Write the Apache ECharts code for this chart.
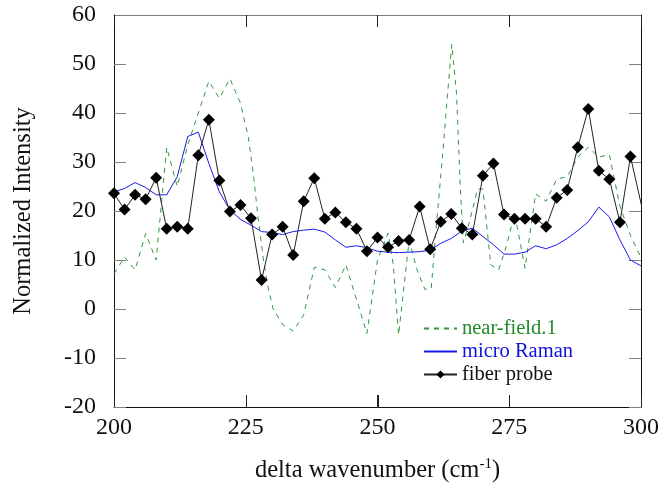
<!DOCTYPE html>
<html>
<head>
<meta charset="utf-8">
<script src="https://cdn.jsdelivr.net/npm/echarts@6/dist/echarts.min.js"></script>
<style>
  html, body { margin: 0; padding: 0; background: #fff; }
  #main { width: 667px; height: 489px; }
</style>
</head>
<body>
<div id="main"></div>
<script>
// ---- data
var fiberX = [200, 202, 204, 206, 208, 210, 212, 214, 216, 218, 220, 222, 224, 226, 228, 230, 232, 234, 236, 238,
  240, 242, 244, 246, 248, 250, 252, 254, 256, 258, 260, 262, 264, 266, 268, 270, 272, 274, 276, 278,
  280, 282, 284, 286, 288, 290, 292, 294, 296, 298, 300.4];
var fiberY = [23.6, 20.3, 23.3, 22.4, 26.8, 16.4, 16.8, 16.4, 31.4, 38.6, 26.2, 19.9, 21.2, 18.5, 5.9, 15.2, 16.8, 11.0, 22.0, 26.7,
  18.4, 19.7, 17.7, 16.4, 11.8, 14.6, 12.6, 13.9, 14.1, 20.9, 12.2, 17.8, 19.4, 16.5, 15.2, 27.2, 29.7, 19.3, 18.4, 18.4,
  18.4, 16.8, 22.7, 24.3, 33.0, 40.8, 28.2, 26.5, 17.7, 31.1, 19.7];

var ramanX = [200, 202, 204, 206, 208, 210, 212, 214, 216, 218, 220, 222, 224, 226, 228, 230, 232, 234, 236, 238,
  240, 242, 244, 246, 248, 250, 252, 254, 256, 258, 260, 262, 264, 266, 268, 270, 272, 274, 276, 278,
  280, 282, 284, 286, 288, 290, 292, 294, 296, 298, 300];
var ramanY = [23.9, 24.6, 25.8, 24.8, 23.3, 23.3, 27.0, 35.2, 36.1, 29.7, 23.9, 20.2, 18.3, 17.1, 15.8, 15.6, 15.2, 15.8, 16.1, 16.3,
  15.7, 14.1, 12.6, 12.9, 12.5, 11.8, 11.6, 11.5, 11.6, 11.7, 12.0, 13.4, 14.4, 15.9, 16.5, 14.8, 13.1, 11.2, 11.2, 11.6,
  12.9, 12.3, 13.1, 14.4, 16.0, 17.8, 20.8, 18.8, 14.1, 10.0, 8.8];

var nearX = [200, 202, 204, 206, 208, 210, 212, 214, 216, 218, 220, 222, 224, 225.5, 226.5, 227.3, 228.3, 229.2, 230.2, 232,
  234, 236, 238, 240, 242, 244, 246, 248, 250, 252, 253, 254, 256, 257.5, 259, 260.2, 261, 262.4, 263.3, 264.1,
  265, 265.7, 266.3, 267.5, 269, 270, 271.5, 273, 274.5, 276, 277, 278, 280, 282, 284, 286, 288, 290, 292, 294,
  296, 298, 300];
var nearY = [7.2, 10.6, 8.0, 15.4, 10.0, 33.0, 25.0, 33.5, 40.0, 46.5, 43.0, 47.0, 42.0, 35.0, 27.0, 19.0, 10.5, 4.6, 0.0, -3.2,
  -4.5, -1.2, 8.5, 8.0, 4.4, 9.0, 2.0, -5.0, 10.0, 15.5, 9.0, -5.3, 14.0, 8.0, 4.0, 4.2, 15.0, 32.0, 44.0, 54.0,
  44.0, 25.0, 13.5, 18.0, 24.5, 24.5, 9.0, 8.0, 13.0, 19.5, 14.0, 8.3, 23.5, 22.0, 26.5, 27.0, 31.0, 33.0, 31.0, 31.5,
  21.0, 15.0, 10.5];

var xTicks = [200, 225, 250, 275, 300];
var yTicks = [-20, -10, 0, 10, 20, 30, 40, 50, 60];

function pairs(xs, ys) {
  var out = [];
  for (var i = 0; i < xs.length; i++) {
    out.push([xs[i], ys[i]]);
  }
  return out;
}

var FONT = '"Liberation Serif", "DejaVu Serif", serif';
var GREEN = '#2f9a3c';
var BLUE = '#1a1aee';

var yMin = yTicks[0];
var yMax = yTicks[yTicks.length - 1];

var myChart = echarts.init(document.getElementById('main'));
var option = {
  animation: false,
  backgroundColor: '#fff',
  grid: { left: 114, right: 26, top: 15, bottom: 82 },
  legend: {
    orient: 'vertical',
    left: 418,
    top: 313,
    itemWidth: 33,
    itemHeight: 10,
    itemGap: 2,
    textStyle: { fontFamily: FONT, fontSize: 20.5, lineHeight: 20 },
    data: [
      { name: 'near-field.1', itemStyle: { opacity: 0 }, textStyle: { color: '#1f8a2a' } },
      { name: 'micro Raman', itemStyle: { opacity: 0 }, textStyle: { color: '#1010e0' } },
      { name: 'fiber probe', textStyle: { color: '#111' } }
    ]
  },
  xAxis: [
    {
      type: 'value',
      min: xTicks[0],
      max: xTicks[xTicks.length - 1],
      interval: 25,
      name: 'delta wavenumber (cm{sup|-1})',
      nameLocation: 'middle',
      nameGap: 50,
      nameTextStyle: {
        fontFamily: FONT, fontSize: 24.5, color: '#111',
        rich: { sup: { fontFamily: FONT, fontSize: 15, color: '#111', padding: [0, 0, 12, 0] } }
      },
      axisLine: { show: true, onZero: false, lineStyle: { color: '#111', width: 1 } },
      axisTick: { show: true, inside: true, length: 12, lineStyle: { color: '#222', width: 1 } },
      axisLabel: { fontFamily: FONT, fontSize: 24, color: '#111', margin: 9 },
      splitLine: { show: false }
    },
    {
      type: 'value',
      position: 'top',
      min: xTicks[0],
      max: xTicks[xTicks.length - 1],
      interval: 25,
      axisLine: { show: true, onZero: false, lineStyle: { color: '#808080', width: 1 } },
      axisTick: { show: true, inside: true, length: 12, lineStyle: { color: '#222', width: 1 } },
      axisLabel: { show: false },
      splitLine: { show: false }
    }
  ],
  yAxis: [
    {
      type: 'value',
      min: yMin,
      max: yMax,
      interval: 10,
      name: 'Normalized Intensity',
      nameLocation: 'middle',
      nameRotate: 90,
      nameGap: 78,
      nameTextStyle: { fontFamily: FONT, fontSize: 24.5, color: '#111' },
      axisLine: { show: true, onZero: false, lineStyle: { color: '#111', width: 1 } },
      axisTick: { show: true, inside: true, length: 12, lineStyle: { color: '#808080' } },
      axisLabel: { fontFamily: FONT, fontSize: 24, color: '#111', margin: 18 },
      splitLine: { show: false }
    },
    {
      type: 'value',
      position: 'right',
      min: yMin,
      max: yMax,
      interval: 10,
      axisLine: { show: true, onZero: false, lineStyle: { color: '#111', width: 1 } },
      axisTick: { show: true, inside: true, length: 12, lineStyle: { color: '#808080' } },
      axisLabel: { show: false },
      splitLine: { show: false }
    }
  ],
  series: [
    {
      name: 'near-field.1',
      type: 'line',
      data: pairs(nearX, nearY),
      symbol: 'none',
      color: GREEN,
      lineStyle: { color: GREEN, width: 1, type: [5, 5] },
      clip: true
    },
    {
      name: 'micro Raman',
      type: 'line',
      data: pairs(ramanX, ramanY),
      symbol: 'none',
      color: BLUE,
      lineStyle: { color: BLUE, width: 1 },
      clip: true
    },
    {
      name: 'fiber probe',
      type: 'line',
      data: pairs(fiberX, fiberY),
      symbol: 'diamond',
      symbolSize: 12,
      color: '#000',
      itemStyle: { color: '#000' },
      lineStyle: { color: '#222', width: 1 },
      clip: true
    }
  ]
};

option && myChart.setOption(option);

// frame ticks on the top and bottom edges, placed through the chart's own x scale
var tickEls = [];
for (var i = 1; i < xTicks.length - 1; i++) {
  var bot = myChart.convertToPixel({ gridIndex: 0 }, [xTicks[i], yMin]);
  var top = myChart.convertToPixel({ gridIndex: 0 }, [xTicks[i], yMax]);
  var px = Math.round(bot[0]) + 0.5;
  tickEls.push({ type: 'line', z: 100, silent: true,
    shape: { x1: px, y1: bot[1], x2: px, y2: bot[1] - 12 },
    style: { stroke: '#222', lineWidth: 1 } });
  tickEls.push({ type: 'line', z: 100, silent: true,
    shape: { x1: px, y1: top[1], x2: px, y2: top[1] + 12 },
    style: { stroke: '#222', lineWidth: 1 } });
}
myChart.setOption({ graphic: tickEls });
</script>
</body>
</html>
